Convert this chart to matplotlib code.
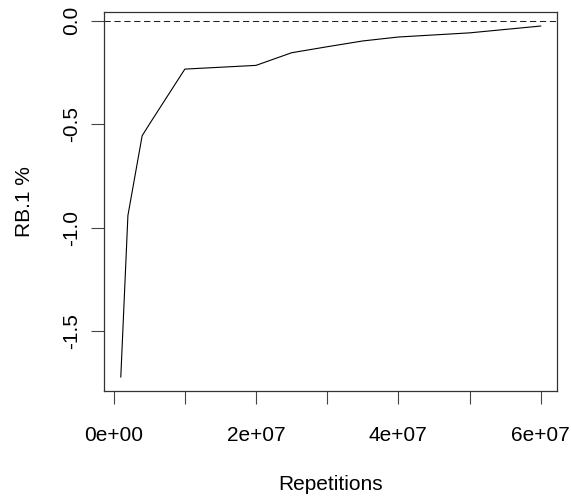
import numpy as np
import matplotlib
matplotlib.use("Agg")
import matplotlib.pyplot as plt

# values
repetitions = [1e6, 2e6, 4e6, 5e6, 1e7, 2e7, 2.5e7, 3e7, 3.5e7, 4e7, 5e7, 6e7]
rb1_pct = [-1.72, -0.94, -0.555, -0.50, -0.233, -0.215, -0.154, -0.125, -0.097, -0.078, -0.058, -0.025]

x_major = [0, 2e7, 4e7, 6e7]
x_major_labels = ["0e+00", "2e+07", "4e+07", "6e+07"]
x_minor = [1e7, 3e7, 5e7]
y_ticks = [0.0, -0.5, -1.0, -1.5]
y_tick_labels = ["0.0", "-0.5", "-1.0", "-1.5"]

plt.rcParams["font.family"] = ["Liberation Sans", "DejaVu Sans"]

fig = plt.figure(figsize=(5.71, 4.96), dpi=100)
ax = fig.add_axes([104 / 571, 1 - 391 / 496, 453.5 / 571, 379 / 496])

ax.plot(repetitions, rb1_pct, color="black", linewidth=0.8)
ax.axhline(0, color="#222222", linewidth=0.75, linestyle=(0, (6, 3.5)))

# R-style 4% padding around the data
xr = max(repetitions) - min(repetitions)
yr = max(rb1_pct) - min(rb1_pct)
ax.set_xlim(min(repetitions) - 0.04 * xr, max(repetitions) + 0.04 * xr)
ax.set_ylim(min(rb1_pct) - 0.04 * yr, max(rb1_pct) + 0.04 * yr)

ax.set_xticks(x_major)
ax.set_xticklabels(x_major_labels)
ax.set_xticks(x_minor, minor=True)
ax.set_yticks(y_ticks)
ax.set_yticklabels(y_tick_labels, rotation=90, va="center")

ax.tick_params(which="both", direction="out", length=9.5, width=0.8,
               labelsize=15, color="#444444")
ax.tick_params(axis="x", pad=16)
ax.tick_params(axis="y", pad=7)

for sp in ax.spines.values():
    sp.set_linewidth(0.9)
    sp.set_color("#333333")

ax.set_xlabel("Repetitions", fontsize=15, labelpad=21)
ax.set_ylabel("RB.1 %", fontsize=15, labelpad=20)

fig.savefig("out.png", dpi=100)
